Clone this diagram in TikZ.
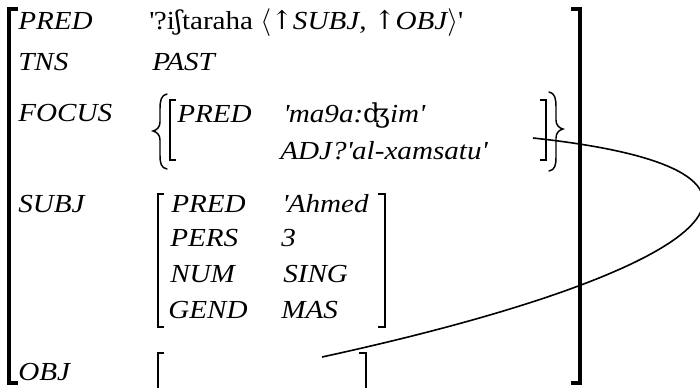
\documentclass[tikz,border=0pt]{standalone}
\usepackage{fontspec}
\setmainfont[FakeStretch=1.12]{Liberation Serif}
\newfontfamily\ipafont[FakeStretch=1.0]{DejaVu Serif}
\newcommand{\sq}{\textquotesingle}
\newcommand{\upa}{{\ipafont\symbol{"2191}}}
\begin{document}
\begin{tikzpicture}[x=0.75pt,y=-0.75pt,
  lbl/.style={anchor=base west,inner sep=0pt,font=\fontsize{19.5}{23}\selectfont\itshape},
  bigbr/.style={line width=2.4pt,line cap=butt},
  midbr/.style={line width=1.8pt},
  brc/.style={line width=1.1pt,line cap=round},
  link/.style={line width=1.2pt}]
\clip (0,0) rectangle (700,387);
\fill[white] (0,0) rectangle (700,387);
% outer bracket
\draw[bigbr] (18,9) -- (9,9) -- (9,383) -- (18,383);
\draw[bigbr] (571,9) -- (580,9) -- (580,383) -- (571,383);
% outer keys
\node[lbl] (kpred) at (18,29) {PRED};
\node[lbl] (ktns) at (18,70) {TNS};
\node[lbl] (kfocus) at (18,121) {FOCUS};
\node[lbl] (ksubj) at (18,212) {SUBJ};
\node[lbl] (kobj) at (18,380) {OBJ};
% outer values
\node[lbl] (vpred) at (149,29) {\upshape\sq?i{\ipafont ʃ}taraha $\langle$\upa\itshape SUBJ\upshape, \upa\itshape OBJ\upshape$\rangle$\sq};
\node[lbl] (vtns) at (152,70) {PAST};
% focus set braces
\draw[brc] (167,94) .. controls (161,95) and (160,101) .. (160,109) -- (160,122)
  .. controls (160,127) and (157,130) .. (153,131)
  .. controls (157,132) and (160,135) .. (160,140) -- (160,155)
  .. controls (160,163) and (161,168) .. (167,169);
\draw[brc] (549,92) .. controls (555,93) and (556,99) .. (556,107) -- (556,120)
  .. controls (556,125) and (559,128) .. (563,129)
  .. controls (559,130) and (556,133) .. (556,138) -- (556,157)
  .. controls (556,165) and (555,170) .. (549,171);
% focus inner f-structure brackets
\draw[midbr] (176,100) -- (170,100) -- (170,160) -- (176,160);
\draw[midbr] (540,100) -- (546,100) -- (546,160) -- (540,160);
\node[lbl] (fkpred) at (177,122) {PRED};
\node[lbl] (fvpred) at (283,122) {\sq ma9a:{\upshape\ipafont ʤ}im\sq};
\node[lbl] (fadj) at (280,159) {ADJ?\sq al-xamsatu\sq};
% subj bracket
\draw[midbr] (164,194) -- (158,194) -- (158,327) -- (164,327);
\draw[midbr] (378,194) -- (385,194) -- (385,327) -- (378,327);
\node[lbl] (skpred) at (171,212) {PRED};
\node[lbl] (svpred) at (282,212) {\sq Ahmed};
\node[lbl] (skpers) at (170,246) {PERS};
\node[lbl] (svpers) at (281,246) {3};
\node[lbl] (sknum) at (170,282) {NUM};
\node[lbl] (svnum) at (283,282) {SING};
\node[lbl] (skgend) at (168,318) {GEND};
\node[lbl] (svgend) at (281,318) {MAS};
% obj bracket
\draw[midbr] (164,353) -- (158,353) -- (158,395);
\draw[midbr] (359,353) -- (366,353) -- (366,395);
% link curve
\coordinate (focusend) at (533,138);
\coordinate (objend) at (322,357);
\draw[link] (focusend) .. controls (832,170) and (722,270) .. (objend);
\end{tikzpicture}
\end{document}
